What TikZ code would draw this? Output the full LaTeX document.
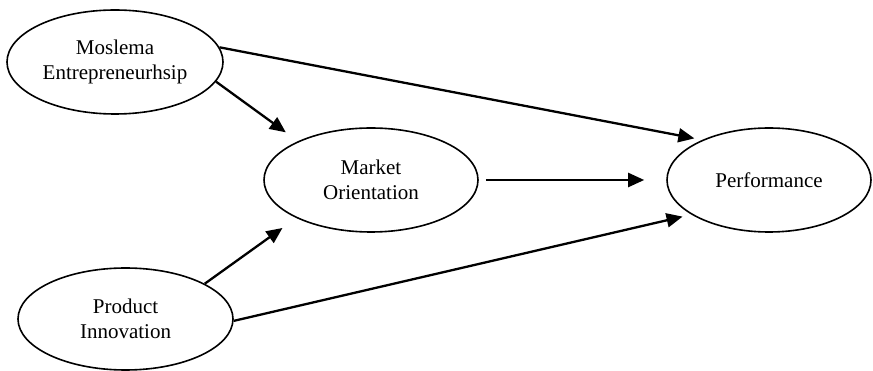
\documentclass[tikz,border=0pt]{standalone}
\usepackage{fontspec}
\setmainfont{Liberation Serif}
\usetikzlibrary{shapes.geometric,arrows.meta}
\begin{document}
\begin{tikzpicture}[x=1pt,y=-1pt,
  oval/.style={ellipse,draw,line width=1.6pt,inner sep=0pt,align=center,
    font=\fontsize{21}{25}\selectfont},
  arr/.style={line width=2.3pt,-{Triangle[length=16pt,width=14pt]}}]
\useasboundingbox (0,0) rectangle (873,371);
\node[oval,minimum width=216pt,minimum height=104pt] (A) at (115,62) {Moslema\\Entrepreneurhsip};
\node[oval,minimum width=214pt,minimum height=104pt] (B) at (371,180) {Market\\Orientation};
\node[oval,minimum width=204pt,minimum height=104pt] (C) at (769,180) {Performance};
\node[oval,minimum width=215pt,minimum height=102pt] (D) at (125.5,319) {Product\\Innovation};
\draw[arr,shorten >=8pt] (A.8.3) -- (C.149.8);
\draw[arr,shorten >=15pt] (A.-11.9) -- (B.152.4);
\draw[arr,shorten <=7pt,shorten >=22pt] (B.east) -- (C.west);
\draw[arr,shorten >=17pt] (D.24.2) -- (B.207.6);
\draw[arr,shorten >=9pt] (D.-1.6) -- (C.204.1);
\end{tikzpicture}
\end{document}
